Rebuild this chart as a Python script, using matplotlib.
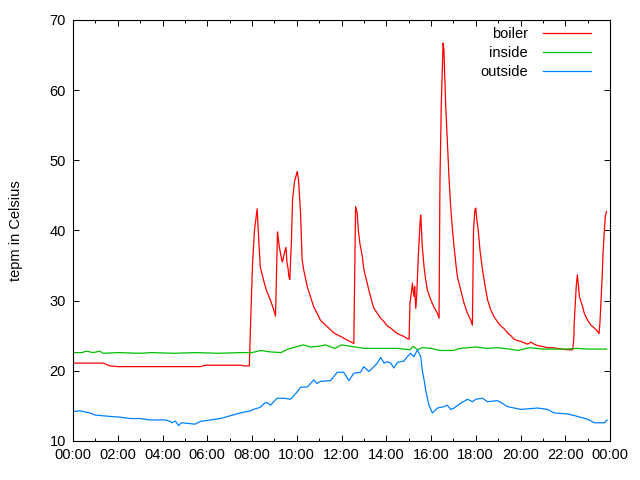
import matplotlib
matplotlib.use("Agg")
import matplotlib.pyplot as plt
from matplotlib.ticker import MultipleLocator, FuncFormatter

# hours since midnight and readings in Celsius
boiler_t = [0.0, 1.34, 1.66, 2.0, 5.69, 5.91, 7.48, 7.66, 7.88, 7.93, 8.02, 8.11, 8.23, 8.28,
            8.37, 8.51, 8.64, 8.82, 8.96, 9.05, 9.14, 9.22, 9.31, 9.36, 9.45, 9.52, 9.56, 9.61,
            9.65, 9.69, 9.72, 9.76, 9.81, 9.90, 10.02, 10.08, 10.17, 10.24, 10.31, 10.47, 10.61,
            10.76, 10.91, 11.06, 11.36, 11.66, 11.96, 12.26, 12.55, 12.63, 12.70, 12.75, 12.82,
            12.93, 13.0, 13.08, 13.15, 13.22, 13.30, 13.38, 13.45, 13.60, 13.75, 13.90, 14.05,
            14.20, 14.34, 14.50, 14.64, 14.79, 14.94, 15.02, 15.06, 15.12, 15.17, 15.20, 15.24,
            15.27, 15.32, 15.36, 15.39, 15.44, 15.51, 15.54, 15.57, 15.61, 15.69, 15.76, 15.84,
            15.99, 16.13, 16.29, 16.36, 16.40, 16.46, 16.54, 16.58, 16.61, 16.66, 16.74, 16.81,
            16.88, 16.96, 17.03, 17.11, 17.18, 17.33, 17.48, 17.63, 17.78, 17.85, 17.90, 17.96,
            18.0, 18.05, 18.11, 18.19, 18.30, 18.37, 18.45, 18.53, 18.67, 18.82, 18.97, 19.12,
            19.27, 19.42, 19.57, 19.72, 19.87, 20.02, 20.17, 20.32, 20.47, 20.61, 20.77, 20.91,
            21.06, 21.21, 21.44, 21.81, 22.11, 22.33, 22.38, 22.40, 22.45, 22.49, 22.54, 22.58,
            22.63, 22.70, 22.78, 22.85, 23.0, 23.15, 23.30, 23.45, 23.51, 23.55, 23.60, 23.65,
            23.69, 23.75, 23.79, 23.84]
boiler = [21.1, 21.1, 20.7, 20.6, 20.6, 20.8, 20.8, 20.7, 20.7, 26.0, 35.0, 40.0, 43.1, 40.0,
          34.8, 33.0, 31.5, 30.1, 28.8, 27.8, 39.8, 37.7, 36.1, 35.5, 36.8, 37.6, 35.5, 34.6,
          33.4, 33.0, 35.4, 38.2, 44.3, 47.0, 48.4, 47.2, 42.5, 35.8, 34.4, 32.0, 30.6,
          29.1, 28.2, 27.2, 26.3, 25.4, 24.9, 24.4, 23.9, 43.4, 42.5, 40.1, 38.2,
          36.3, 34.4, 33.4, 32.5, 31.5, 30.6, 29.6, 28.9, 28.2, 27.5, 27.0, 26.4,
          26.1, 25.7, 25.3, 25.1, 24.9, 24.6, 24.5, 29.7, 31.05, 32.5, 31.5, 30.6,
          32.0, 28.9, 30.6, 33.0, 36.8, 41.0, 42.2, 40.5, 37.7, 34.8, 33.0, 31.5,
          30.1, 29.1, 28.2, 27.5, 47.0, 58.0, 66.7, 65.7, 62.4, 57.6, 51.9, 47.2,
          43.4, 40.1, 37.7, 35.3, 33.4, 31.5, 29.6, 28.2, 27.2, 26.5, 40.1, 42.9,
          43.2, 41.5, 40.1, 37.2, 34.4, 33.0, 31.5, 30.1, 28.7, 27.7, 27.0, 26.4,
          26.0, 25.4, 25.0, 24.5, 24.3, 24.2, 24.0, 23.8, 24.1, 23.8, 23.6, 23.5,
          23.4, 23.3, 23.3, 23.1, 23.0, 23.0, 24.4, 26.8, 29.6, 32.0, 33.7, 32.5,
          30.6, 29.9, 29.1, 28.2, 27.2, 26.5, 26.1, 25.6, 25.3, 26.8, 30.1, 33.4,
          36.8, 40.1, 42.0, 42.7]

inside_t = [0.0, 0.4, 0.6, 0.9, 1.2, 1.35, 2.0, 3.0, 3.5, 4.5, 5.5, 6.5, 7.5, 8.0, 8.4, 8.8,
            9.3, 9.6, 10.3, 10.6, 11.0, 11.28, 11.7, 12.0, 12.6, 13.0, 14.5, 15.05, 15.12,
            15.2, 15.4, 15.6, 16.0, 16.4, 17.0, 17.3, 18.0, 18.5, 19.0, 19.5, 19.9, 20.4,
            21.0, 22.0, 22.5, 23.0, 23.85]
inside = [22.6, 22.6, 22.8, 22.6, 22.8, 22.5, 22.6, 22.5, 22.6, 22.5, 22.6, 22.5, 22.6, 22.6,
          22.9, 22.7, 22.6, 23.1, 23.7, 23.4, 23.5, 23.7, 23.2, 23.7, 23.4, 23.2, 23.2, 23.0,
          23.2, 23.5, 23.0, 23.3, 23.2, 22.9, 22.9, 23.2, 23.4, 23.2, 23.3, 23.1, 22.9, 23.3,
          23.1, 23.1, 23.2, 23.1, 23.1]

outside_t = [0.0, 0.31, 0.76, 0.99, 1.66, 2.10, 2.55, 3.0, 3.45, 4.12, 4.34, 4.43, 4.57, 4.72,
             4.84, 5.46, 5.69, 6.14, 6.58, 7.03, 7.48, 7.93, 8.07, 8.37, 8.52, 8.67, 8.82, 8.97,
             9.12, 9.42, 9.72, 10.02, 10.17, 10.47, 10.76, 10.91, 11.06, 11.51, 11.66, 11.81,
             12.10, 12.33, 12.55, 12.85, 13.0, 13.22, 13.45, 13.60, 13.75, 13.90, 14.05, 14.20,
             14.34, 14.50, 14.79, 14.94, 15.09, 15.24, 15.39, 15.54, 15.61, 15.69, 15.76, 15.84,
             15.91, 16.06, 16.29, 16.58, 16.73, 16.88, 17.03, 17.33, 17.63, 17.85, 18.0, 18.30,
             18.52, 18.97, 19.12, 19.42, 19.72, 20.02, 20.77, 21.21, 21.51, 22.11, 22.56, 23.0,
             23.30, 23.75, 23.87]
outside = [14.2, 14.3, 14.0, 13.7, 13.5, 13.4, 13.2, 13.2, 13.0, 13.0, 12.8, 12.6, 12.85, 12.2,
           12.6, 12.4, 12.8, 13.0, 13.2, 13.6, 14.0, 14.3, 14.5, 14.8, 15.3, 15.5, 15.1, 15.6,
           16.1, 16.1, 15.95, 17.0, 17.65, 17.7, 18.7, 18.2, 18.5, 18.6, 19.2, 19.8,
           19.8, 18.6, 19.65, 19.8, 20.6, 19.9, 20.6, 21.1, 21.9, 21.1, 21.3, 21.1,
           20.4, 21.2, 21.4, 22.0, 22.5, 22.0, 23.0, 22.0, 20.1, 18.7, 17.3, 16.1,
           15.1, 14.0, 14.7, 14.9, 15.1, 14.5, 14.7, 15.4, 15.95, 15.6, 15.95, 16.1,
           15.6, 15.75, 15.5, 14.9, 14.7, 14.5, 14.7, 14.5, 14.0, 13.85, 13.5, 13.1,
           12.6, 12.6, 13.0]

plt.rcParams['font.family'] = ['Liberation Sans', 'DejaVu Sans']

fig = plt.figure(figsize=(6.4, 4.8), dpi=100)
ax = fig.add_axes([73 / 640, 1 - 441 / 480, 537 / 640, 421 / 480])

ax.plot(boiler_t, boiler, color='#ff0000', lw=0.9, label='boiler')
ax.plot(inside_t, inside, color='#00c000', lw=0.9, label='inside')
ax.plot(outside_t, outside, color='#0080ff', lw=0.9, label='outside')

ax.set_xlim(0, 24)
ax.set_ylim(10, 70)
ax.xaxis.set_major_locator(MultipleLocator(2))
ax.xaxis.set_minor_locator(MultipleLocator(1))
ax.yaxis.set_major_locator(MultipleLocator(10))
ax.xaxis.set_major_formatter(FuncFormatter(lambda v, p: '%02d:00' % (int(round(v)) % 24)))

ax.tick_params(which='both', direction='in', top=True, right=True, labelsize=10.5,
               width=0.7, pad=5)
ax.tick_params(which='major', length=4.5)
ax.tick_params(which='minor', length=2.5)
for s in ax.spines.values():
    s.set_linewidth(0.8)

ax.set_ylabel('tepm in Celsius', fontsize=10.5, labelpad=19)

ax.legend(loc='upper right', frameon=False, markerfirst=False, fontsize=10.5,
          handlelength=3.3, handletextpad=1.0, labelspacing=0.35,
          borderaxespad=0.0, bbox_to_anchor=(0.975, 0.998))

fig.savefig('out.png', dpi=100)
